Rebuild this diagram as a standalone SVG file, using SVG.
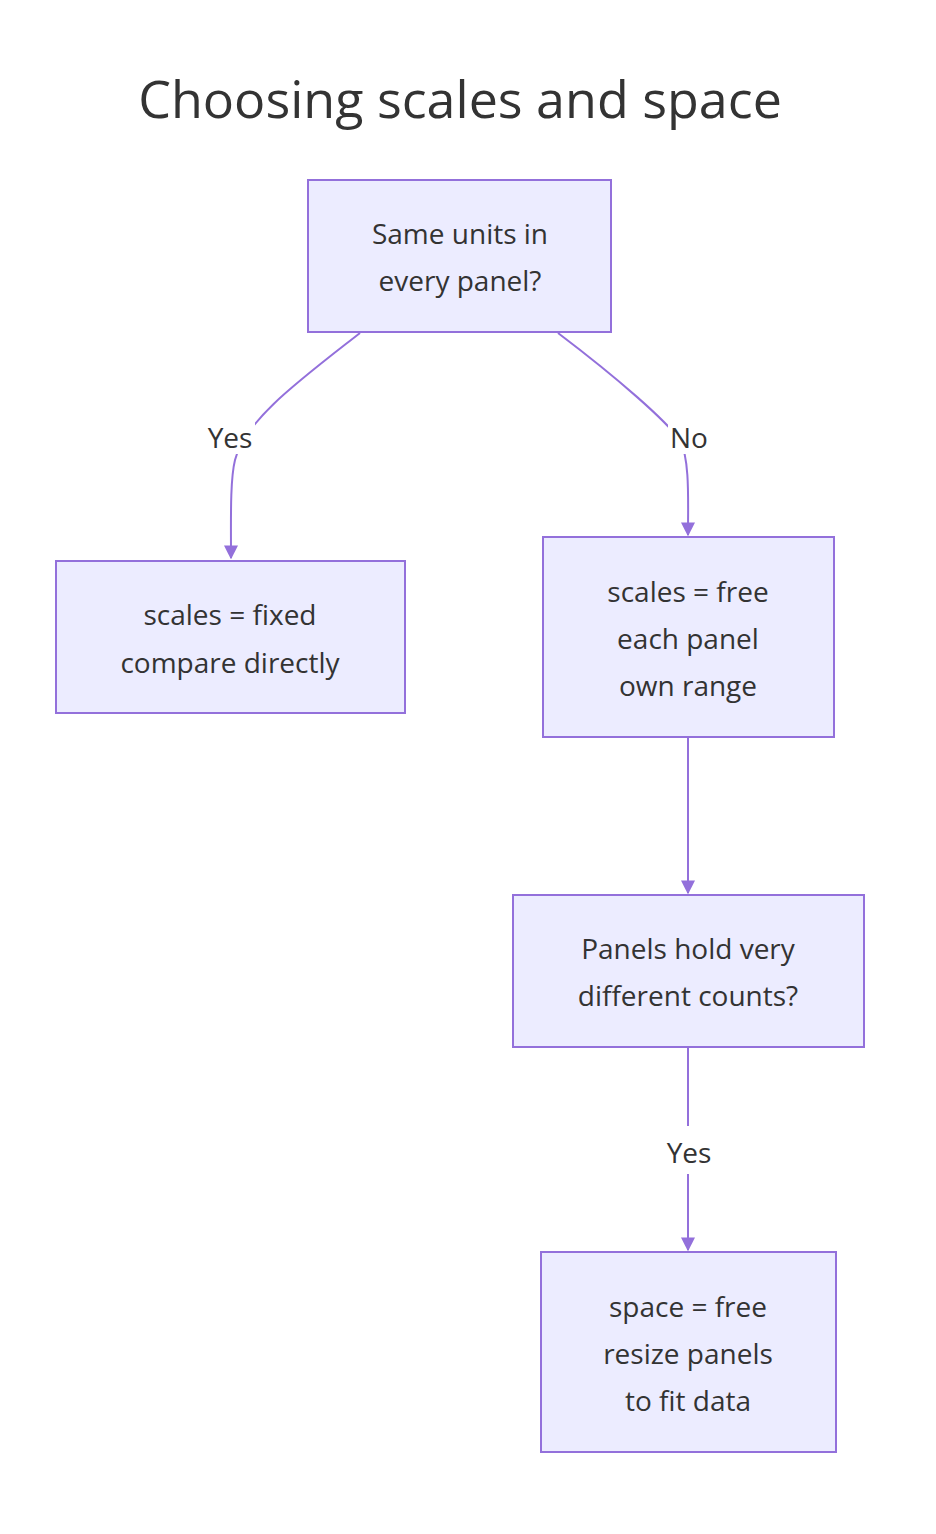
<svg xmlns="http://www.w3.org/2000/svg" width="936" height="1534" viewBox="0 0 936 1534">
<style>
.n{fill:#ECECFF;stroke:#9370DB;stroke-width:2}
.t{font-family:"Open Sans","Noto Sans",sans-serif;font-size:28px;fill:#333;text-anchor:middle;dominant-baseline:central}
.e{fill:none;stroke:#9370DB;stroke-width:2}
.lb{fill:#fff}
</style>
<defs><marker id="a" viewBox="0 0 10 10" refX="9" refY="5" markerWidth="7" markerHeight="7" orient="auto"><path d="M0,0L10,5L0,10z" fill="#9370DB"/></marker></defs>
<rect width="936" height="1534" fill="#fff"/>
<text x="460" y="97" class="t" style="font-size:52px">Choosing scales and space</text>
<g id="edges">
<path class="e" d="M360,333 C300,380 245,420 235,460 C230,480 231,520 231,558" marker-end="url(#a)"/>
<path class="e" d="M558,333 C620,380 665,420 680,440 C690,460 688,500 688,535" marker-end="url(#a)"/>
<path class="e" d="M688,737 L688,893" marker-end="url(#a)"/>
<path class="e" d="M688,1047 L688,1250" marker-end="url(#a)"/>
<rect class="lb" x="207" y="420" width="48" height="34"/><text x="230" y="437" class="t">Yes</text>
<rect class="lb" x="668" y="420" width="42" height="34"/><text x="689" y="437" class="t">No</text>
<rect class="lb" x="665" y="1126" width="48" height="48"/><text x="689" y="1152" class="t">Yes</text>
</g>
<g id="n1"><rect class="n" x="308" y="180" width="303" height="152"/><text x="460" y="233" class="t">Same units in</text><text x="460" y="280" class="t">every panel?</text></g>
<g id="n2"><rect class="n" x="56" y="561" width="349" height="152"/><text x="230" y="614" class="t">scales = fixed</text><text x="230" y="662" class="t">compare directly</text></g>
<g id="n3"><rect class="n" x="543" y="537" width="291" height="200"/><text x="688" y="591" class="t">scales = free</text><text x="688" y="638" class="t">each panel</text><text x="688" y="685" class="t">own range</text></g>
<g id="n4"><rect class="n" x="513" y="895" width="351" height="152"/><text x="688" y="948" class="t">Panels hold very</text><text x="688" y="995" class="t">different counts?</text></g>
<g id="n5"><rect class="n" x="541" y="1252" width="295" height="200"/><text x="688" y="1306" class="t">space = free</text><text x="688" y="1353" class="t">resize panels</text><text x="688" y="1400" class="t">to fit data</text></g>
</svg>
